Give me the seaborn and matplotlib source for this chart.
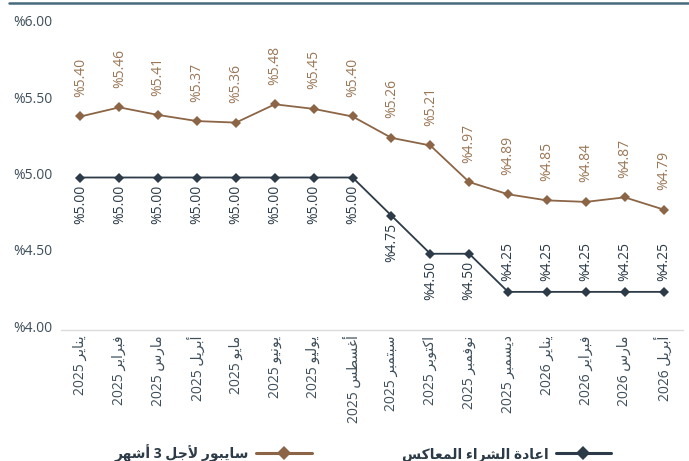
import matplotlib
matplotlib.use("Agg")
import matplotlib.pyplot as plt
import matplotlib.transforms as mtransforms
from matplotlib.lines import Line2D
import seaborn as sns
import pandas as pd

# ---------------- data ----------------
months = ["يناير 2025", "فبراير 2025", "مارس 2025", "أبريل 2025", "مايو 2025",
          "يونيو 2025", "يوليو 2025", "أغسطس 2025", "سبتمبر 2025", "اكتوبر 2025",
          "نوفمبر 2025", "ديسمبر 2025", "يناير 2026", "فبراير 2026", "مارس 2026",
          "أبريل 2026"]
saibor_3m = [5.40, 5.46, 5.41, 5.37, 5.36, 5.48, 5.45, 5.40, 5.26, 5.21,
             4.97, 4.89, 4.85, 4.84, 4.87, 4.79]
reverse_repo = [5.00, 5.00, 5.00, 5.00, 5.00, 5.00, 5.00, 5.00, 4.75, 4.50,
                4.50, 4.25, 4.25, 4.25, 4.25, 4.25]
y_ticks = [4.00, 4.50, 5.00, 5.50, 6.00]
name_saibor = "سايبور لأجل 3 أشهر"
name_repo = "اعادة الشراء المعاكس"

# ---------------- minimal Arabic shaping (presentation forms) ----------------
FORMS = {  # iso, fin, ini, med
    "ء": ("\uFE80", None, None, None),
    "أ": ("\uFE83", "\uFE84", None, None),
    "ا": ("\uFE8D", "\uFE8E", None, None),
    "ب": ("\uFE8F", "\uFE90", "\uFE91", "\uFE92"),
    "ة": ("\uFE93", "\uFE94", None, None),
    "ت": ("\uFE95", "\uFE96", "\uFE97", "\uFE98"),
    "ج": ("\uFE9D", "\uFE9E", "\uFE9F", "\uFEA0"),
    "د": ("\uFEA9", "\uFEAA", None, None),
    "ر": ("\uFEAD", "\uFEAE", None, None),
    "س": ("\uFEB1", "\uFEB2", "\uFEB3", "\uFEB4"),
    "ش": ("\uFEB5", "\uFEB6", "\uFEB7", "\uFEB8"),
    "ط": ("\uFEC1", "\uFEC2", "\uFEC3", "\uFEC4"),
    "ع": ("\uFEC9", "\uFECA", "\uFECB", "\uFECC"),
    "غ": ("\uFECD", "\uFECE", "\uFECF", "\uFED0"),
    "ف": ("\uFED1", "\uFED2", "\uFED3", "\uFED4"),
    "ك": ("\uFED9", "\uFEDA", "\uFEDB", "\uFEDC"),
    "ل": ("\uFEDD", "\uFEDE", "\uFEDF", "\uFEE0"),
    "م": ("\uFEE1", "\uFEE2", "\uFEE3", "\uFEE4"),
    "ن": ("\uFEE5", "\uFEE6", "\uFEE7", "\uFEE8"),
    "ه": ("\uFEE9", "\uFEEA", "\uFEEB", "\uFEEC"),
    "و": ("\uFEED", "\uFEEE", None, None),
    "ي": ("\uFEF1", "\uFEF2", "\uFEF3", "\uFEF4"),
}
LAM_ALEF = {"ا": ("\uFEFB", "\uFEFC"), "أ": ("\uFEF7", "\uFEF8")}


def dual(c):
    return c in FORMS and FORMS[c][2] is not None


def joins(c):
    return c in FORMS and FORMS[c][1] is not None


def shape_word(w):
    out = []
    i = 0
    n = len(w)
    while i < n:
        c = w[i]
        prev = w[i - 1] if i > 0 else ""
        jp = dual(prev) and joins(c)
        if c == "ل" and i + 1 < n and w[i + 1] in LAM_ALEF:
            out.append(LAM_ALEF[w[i + 1]][1 if jp else 0])
            i += 2
            continue
        if c not in FORMS:
            out.append(c)
            i += 1
            continue
        nxt = w[i + 1] if i + 1 < n else ""
        jn = dual(c) and joins(nxt)
        iso, fin, ini, med = FORMS[c]
        if jp and jn:
            out.append(med)
        elif jp:
            out.append(fin)
        elif jn:
            out.append(ini)
        else:
            out.append(iso)
        i += 1
    return "".join(out)


def rtl(text):
    tokens = text.split(" ")
    vis = []
    for t in reversed(tokens):
        if any(ch in FORMS for ch in t):
            vis.append(shape_word(t)[::-1])
        else:
            vis.append(t)
    return " ".join(vis)


# ---------------- style ----------------
sns.set_style("white")
plt.rcParams["font.family"] = ["Open Sans", "DejaVu Sans"]

brown = "#8b6545"
dark = "#2c3b47"
tick_col = "#3e4e5a"

df = pd.DataFrame({"pos": range(len(months)), "saibor": saibor_3m, "repo": reverse_repo})

fig = plt.figure(figsize=(6.89, 4.61), dpi=100)
ax = fig.add_axes([61 / 689, 1 - 330 / 461, (683 - 61) / 689, (330 - 25) / 461])

sns.lineplot(data=df, x="pos", y="saibor", ax=ax, color=brown, marker="D",
             markersize=5.5, markeredgewidth=0, linewidth=1.3)
sns.lineplot(data=df, x="pos", y="repo", ax=ax, color=dark, marker="D",
             markersize=5.5, markeredgewidth=0, linewidth=1.3)

for i, v in enumerate(saibor_3m):
    ax.annotate(f"%{v:.2f}", (i, v), xytext=(0, 14), textcoords="offset points",
                rotation=90, ha="center", va="bottom", color="#9a7656", fontsize=10)
lowest = min(reverse_repo)
for i, v in enumerate(reverse_repo):
    if v == lowest:
        ax.annotate(f"%{v:.2f}", (i, v), xytext=(0, 8), textcoords="offset points",
                    rotation=90, ha="center", va="bottom", color=dark, fontsize=10)
    else:
        ax.annotate(f"%{v:.2f}", (i, v), xytext=(0, -5), textcoords="offset points",
                    rotation=90, ha="center", va="top", color=dark, fontsize=10)

ax.set_xlim(-0.5, len(months) - 0.5)
ax.set_ylim(4.0, 6.0)
ax.set_yticks(y_ticks)
ax.set_yticklabels([f"%{t:.2f}" for t in y_ticks], color=tick_col, fontsize=10)
ax.set_xticks(range(len(months)))
ax.set_xticklabels([rtl(m) for m in months], rotation=90, color=tick_col, fontsize=10)
ax.tick_params(axis="both", length=0)
ax.tick_params(axis="x", pad=4)
ax.tick_params(axis="y", pad=6)
shift = mtransforms.ScaledTranslation(0, 4 / 100, fig.dpi_scale_trans)
for lab in ax.get_yticklabels():
    lab.set_transform(lab.get_transform() + shift)
ax.set_xlabel("")
ax.set_ylabel("")
for s in ["top", "right", "left"]:
    ax.spines[s].set_visible(False)
ax.spines["bottom"].set_color("#dcdcdc")
ax.spines["bottom"].set_linewidth(1)

# top decorative rule
fig.add_artist(Line2D([9 / 689, 1.0], [1 - 3 / 461, 1 - 3 / 461],
                      color="#46697e", linewidth=1.8, transform=fig.transFigure))

handles = [
    Line2D([], [], color=brown, marker="D", markersize=7, markeredgewidth=0, linewidth=2.2),
    Line2D([], [], color=dark, marker="D", markersize=7, markeredgewidth=0, linewidth=2.2),
]
labels = [rtl(name_saibor), rtl(name_repo)]
leg = fig.legend(handles, labels, loc="center", bbox_to_anchor=(363 / 689, 1 - 453 / 461),
                 ncol=2, frameon=False, markerfirst=False, handlelength=4,
                 handletextpad=0.5, columnspacing=6.5, borderpad=0.2,
                 prop={"weight": "bold", "size": 10})
for t in leg.get_texts():
    t.set_color(dark)

fig.savefig("out.png", dpi=100)
